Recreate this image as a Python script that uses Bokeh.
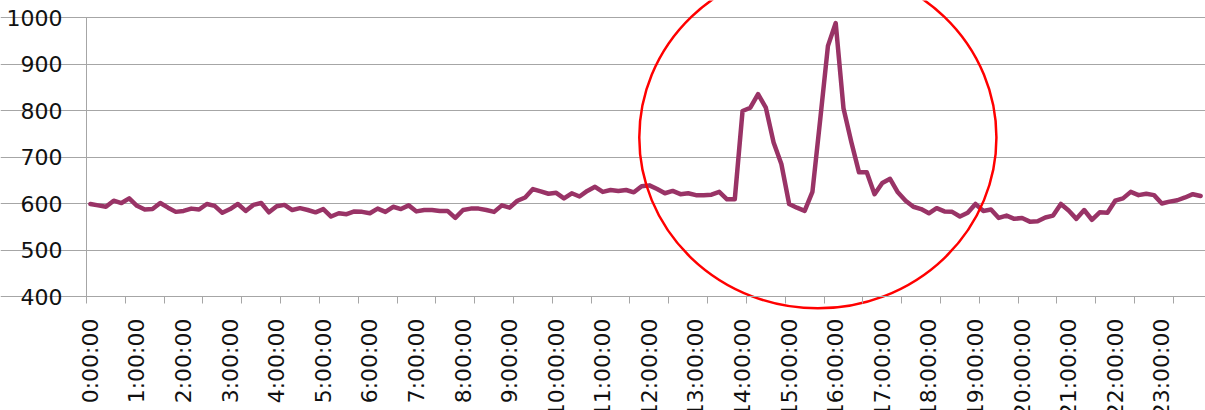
import math
from bokeh.plotting import figure
from bokeh.models import Range1d, FixedTicker, ColumnDataSource
from bokeh.embed import file_html
from bokeh.resources import INLINE

# 10-minute samples over one day
times = [f"{h}:{m:02d}:00" for h in range(24) for m in range(0, 60, 10)]
values = [
    599, 596, 593, 606, 601, 611, 595, 587, 588, 601, 591, 582, 584, 589, 587, 599,
    595, 580, 588, 599, 584, 597, 601, 581, 594, 597, 586, 590, 586, 581, 588, 572,
    579, 577, 583, 582, 579, 589, 582, 593, 588, 596, 583,
    586, 586, 584, 584, 569, 586, 589, 589, 586, 582, 596, 591, 606, 613, 631, 626,
    621, 623, 611, 622, 615, 627, 636, 625, 629, 627, 629, 624, 637, 639, 631, 622,
    627, 620, 622, 618, 618, 619, 625, 609, 609, 799, 806, 835, 806, 731, 685, 599,
    591, 584, 625,
    780, 939, 988, 805, 733, 667, 667, 620, 644, 653, 624, 606, 593, 588, 579, 590,
    583, 582, 572, 580, 599, 584, 587, 569, 574, 567, 569, 561, 562, 570, 574, 599,
    585, 567, 586, 565, 581, 580, 606, 611, 625, 618, 621, 618, 600, 604, 607, 613,
    620, 616,
]
hour_labels = [f"{h}:00:00" for h in range(24)]
y_ticks = [400, 500, 600, 700, 800, 900, 1000]

# highlight ellipse (centre / size in data units)
circle_x, circle_y, circle_w, circle_h = 93.7, 742, 46.0, 735

FONT = "DejaVu Sans"
GRID = "#A6A6A6"
TXT = "#111111"
n = len(values)

# layout: the plot frame fills the whole canvas; the axes sit at fixed
# data locations so that nothing of the labels or the ellipse is clipped
W, H = 1205, 410
LEFT_PX, RIGHT_PX = 86, 1204          # pixel columns of the category band edges
TOP_PX, BOTTOM_PX = 17, 296           # pixel rows of 1000 and 400
x0, x1 = -0.5, n - 0.5
xppu = (RIGHT_PX - LEFT_PX) / (x1 - x0)
yppu = (BOTTOM_PX - TOP_PX) / (y_ticks[-1] - y_ticks[0])
x_start = x0 - LEFT_PX / xppu
x_end = x1 + (W - RIGHT_PX) / xppu
y_start = y_ticks[0] - (H - BOTTOM_PX) / yppu
y_end = y_ticks[-1] + TOP_PX / yppu

p = figure(width=W, height=H, output_backend="svg", toolbar_location=None,
           x_range=Range1d(x_start, x_end), y_range=Range1d(y_start, y_end),
           min_border=0)
p.outline_line_color = None
p.background_fill_color = "white"
p.border_fill_color = "white"

src = ColumnDataSource(dict(x=list(range(n)), y=values, t=times))
p.line("x", "y", source=src, line_color="#993366", line_width=4.5,
       line_join="round", line_cap="round")

# y axis at the left edge of the category band
ya = p.yaxis[0]
ya.fixed_location = x0
ya.ticker = FixedTicker(ticks=y_ticks)
ya.bounds = (y_ticks[0], y_ticks[-1])
ya.axis_line_color = GRID
ya.major_tick_line_color = GRID
ya.major_tick_out = 7
ya.major_tick_in = 0
ya.minor_tick_line_color = None
ya.major_label_text_font = FONT
ya.major_label_text_font_size = "22px"
ya.major_label_text_color = TXT
ya.major_label_standoff = 17

p.ygrid.ticker = FixedTicker(ticks=y_ticks)
p.ygrid.bounds = (x0, x1)
p.ygrid.grid_line_color = GRID
p.xgrid.visible = False

# x axis at value 400: tick marks every 5 samples, labels every hour
label_pos = [times.index(lbl) for lbl in hour_labels]
xa = p.xaxis[0]
xa.fixed_location = y_ticks[0]
xa.bounds = (x0, x1)
xa.ticker = FixedTicker(ticks=label_pos,
                        minor_ticks=[k - 0.5 for k in range(0, n, 5)])
xa.major_label_overrides = {pos: lbl for pos, lbl in zip(label_pos, hour_labels)}
xa.major_label_orientation = math.pi / 2
xa.axis_line_color = GRID
xa.major_tick_line_color = None
xa.major_tick_out = 7
xa.major_tick_in = 0
xa.minor_tick_line_color = GRID
xa.minor_tick_out = 7
xa.minor_tick_in = 0
xa.major_label_text_font = FONT
xa.major_label_text_font_size = "22px"
xa.major_label_text_color = TXT
xa.major_label_standoff = 15

# red highlight ellipse around the peaks
p.ellipse(x=[circle_x], y=[circle_y], width=[circle_w], height=[circle_h],
          fill_color=None, line_color="#FF0000", line_width=2.5)

open("out.html", "w").write(file_html(p, INLINE))
